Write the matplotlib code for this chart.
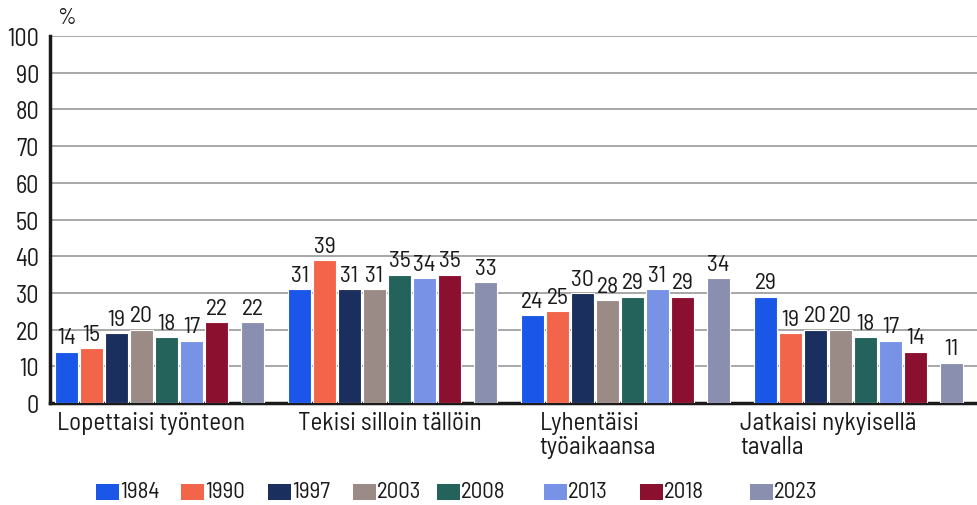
import matplotlib
matplotlib.use("Agg")
import matplotlib.pyplot as plt
from matplotlib.patches import Rectangle
import numpy as np

categories = ["Lopettaisi työnteon", "Tekisi silloin tällöin", "Lyhentäisi\ntyöaikaansa", "Jatkaisi nykyisellä\ntavalla"]
years = ["1984", "1990", "1997", "2003", "2008", "2013", "2018", "2023"]
v1984 = [14, 31, 24, 29]
v1990 = [15, 39, 25, 19]
v1997 = [19, 31, 30, 20]
v2003 = [20, 31, 28, 20]
v2008 = [18, 35, 29, 18]
v2013 = [17, 34, 31, 17]
v2018 = [22, 35, 29, 14]
v2023 = [22, 33, 34, 11]
series = [v1984, v1990, v1997, v2003, v2008, v2013, v2018, v2023]
colors = ["#1a56e8", "#f2654b", "#1b2f5e", "#9b8b86", "#23635c", "#7892e6", "#8b1030", "#8a8fb0"]
yticks = [0, 10, 20, 30, 40, 50, 60, 70, 80, 90, 100]

plt.rcParams["font.family"] = ["Barlow Semi Condensed", "DejaVu Sans"]

W, H = 977, 506
fig = plt.figure(figsize=(W / 100, H / 100), dpi=100)
ax = fig.add_axes([50 / W, (H - 404) / H, 1 - 50 / W, (404 - 37) / H])

slot = 25 / 233
width = 23 / 233
offsets = [i * slot for i in range(7)] + [186 / 233]
x = np.arange(len(categories))
for vals, off, c, yr in zip(series, offsets, colors, years):
    bars = ax.bar(x + off, vals, width=width, color=c, edgecolor="white", linewidth=0.8, zorder=3)
    for b, v in zip(bars, vals):
        ax.text(b.get_x() + b.get_width() / 2, v + 0.9, str(v), ha="center", va="bottom",
                fontsize=17, color="#1a1a1a", zorder=4)

ax.set_xlim(-16.5 / 233, (977 - 66.5) / 233)
ax.set_ylim(0, 100)
ax.set_yticks(yticks)
ax.set_yticklabels([str(t) for t in yticks], fontsize=17.5, color="#1a1a1a")
ax.tick_params(axis="y", length=0, pad=8)
ax.set_xticks([])
ax.grid(axis="y", color="#a0a0a0", linewidth=1.3, zorder=0)
ax.set_axisbelow(True)
for s in ["top", "right"]:
    ax.spines[s].set_visible(False)
ax.spines["left"].set_linewidth(2.5)
ax.spines["bottom"].set_linewidth(2.5)
ax.spines["left"].set_color("#1a1a1a")
ax.spines["bottom"].set_color("#1a1a1a")

label_offsets = [-0.04, -0.006, 0.03, -0.11]
trans = matplotlib.transforms.blended_transform_factory(ax.transData, ax.transAxes)
for i, (cat, lo) in enumerate(zip(categories, label_offsets)):
    ax.text(i + lo, -0.022, cat, transform=trans, ha="left", va="top", fontsize=18,
            color="#1a1a1a", linespacing=1.05)

fig.text(57 / W, 1 - 19 / H, "%", fontsize=16.5, ha="left", va="center", color="#1a1a1a")

leg_x = [96, 181, 268, 353, 437, 544, 640, 750]
for lx, c, yr in zip(leg_x, colors, years):
    fig.patches.append(Rectangle((lx / W, 1 - 501 / H), 23 / W, 16 / H, transform=fig.transFigure,
                                 facecolor=c, edgecolor="none"))
    fig.text((lx + 24) / W, 1 - 493 / H, yr, fontsize=16.5, ha="left", va="center", color="#1a1a1a")

fig.savefig("out.png", dpi=100)
